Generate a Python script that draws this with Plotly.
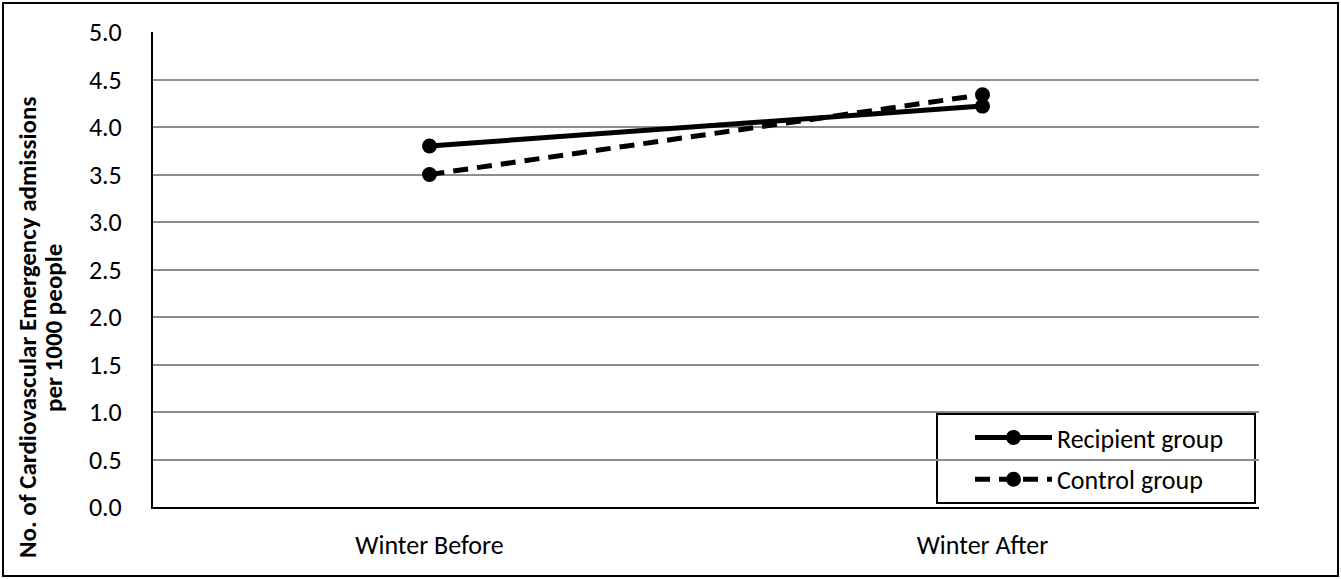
import plotly.graph_objects as go

categories = ["Winter Before", "Winter After"]
recipient = [3.80, 4.22]
control = [3.50, 4.34]
series_names = ["Recipient group", "Control group"]
y_title_lines = ["No. of Cardiovascular Emergency admissions", "per 1000 people"]

FONT = "Carlito, Lato, sans-serif"

W, H = 1341, 579
L, R, T, B = 153, 82, 32, 72
pw, ph = W - L - R, H - T - B

def px_x(p):
    return (p - L) / pw

def px_y(p):
    return (H - B - p) / ph

fig = go.Figure()
fig.add_trace(go.Scatter(
    x=categories, y=recipient, name=series_names[0], mode="lines+markers",
    line=dict(color="black", width=5, dash="solid"),
    marker=dict(color="black", size=15), legendgroup="a"))
fig.add_trace(go.Scatter(
    x=categories, y=control, name=series_names[1], mode="lines+markers",
    line=dict(color="black", width=5, dash="15px,9px"),
    marker=dict(color="black", size=15), legendgroup="b"))

fig.update_layout(
    width=W, height=H,
    margin=dict(l=L, r=R, t=T, b=B),
    paper_bgcolor="white", plot_bgcolor="white",
    font=dict(family=FONT, size=26, color="black"),
    showlegend=True,
    legend=dict(x=px_x(970), y=px_y(414), xanchor="left", yanchor="top",
                bgcolor="rgba(0,0,0,0)", borderwidth=0, itemwidth=77,
                tracegroupgap=5, font=dict(size=26)),
    xaxis=dict(type="category", range=[-0.5, 1.5], showline=True,
               linecolor="black", linewidth=2, showgrid=False, ticks="",
               ticklabelstandoff=14, tickfont=dict(size=26)),
    yaxis=dict(range=[0, 5], dtick=0.5, tick0=0, tickformat=".1f",
               showgrid=True, gridcolor="#8c8c8c", gridwidth=1.5,
               showline=True, linecolor="black", linewidth=2,
               zeroline=False, ticks="", ticklabelstandoff=24,
               tickfont=dict(size=26)),
    shapes=[
        dict(type="rect", xref="paper", yref="paper",
             x0=px_x(937), x1=px_x(1255), y0=px_y(503), y1=px_y(414),
             line=dict(color="black", width=2), fillcolor="white", layer="below"),
        dict(type="rect", xref="paper", yref="paper",
             x0=px_x(3), x1=px_x(1338), y0=px_y(576), y1=px_y(3),
             line=dict(color="black", width=2)),
    ],
    annotations=[
        dict(text="<b>" + y_title_lines[0] + "</b>", xref="paper", yref="paper",
             x=px_x(27), y=px_y(328), xanchor="center", yanchor="middle",
             textangle=-90, showarrow=False, font=dict(size=25)),
        dict(text="<b>" + y_title_lines[1] + "</b>", xref="paper", yref="paper",
             x=px_x(53), y=px_y(328), xanchor="center", yanchor="middle",
             textangle=-90, showarrow=False, font=dict(size=25)),
    ],
)

fig.write_html("out.html", config={"displayModeBar": False},
               post_script="document.body.style.margin='0';")
